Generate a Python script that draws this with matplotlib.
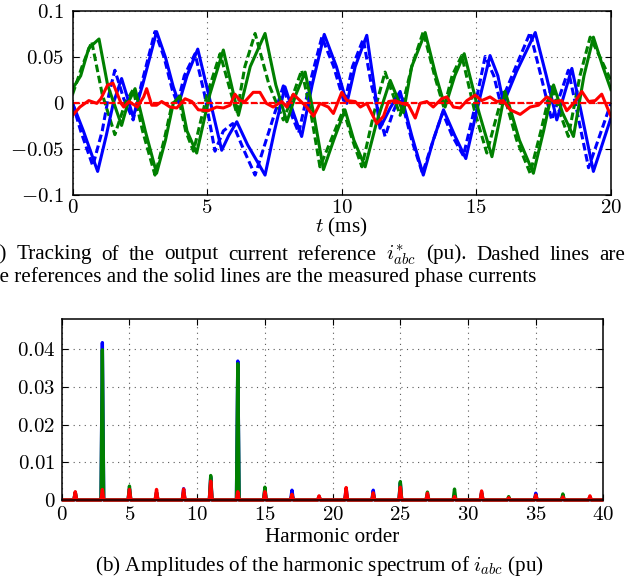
import matplotlib
matplotlib.use('Agg')
import matplotlib.pyplot as plt
from matplotlib.ticker import FuncFormatter

# === DATA ===
# top: phase currents (solid = measured, dashed = reference), time in ms, value in pu
ia_t = [0, 0.4, 0.93, 1.25, 1.51, 1.82, 2.05, 2.25, 2.6, 3.12, 3.45, 3.74, 3.95, 4.25, 4.65, 5.05,
        5.54, 5.8, 6.1, 6.5, 7.15, 7.5, 7.89, 8.2, 8.51, 8.9, 9.35, 9.8, 10.19, 10.5, 10.93, 11.2,
        11.42, 11.8, 12.17, 12.6, 13.03, 13.4, 13.78, 14.2, 14.61, 15.0, 15.51, 15.8, 16.01, 16.5,
        17.19, 17.6, 17.99, 18.55, 18.9, 19.35, 20.0]
ia_v = [0.0, -0.03, -0.074, -0.035, 0.0, 0.027, 0.005, -0.015, 0.02, 0.078, 0.05, 0.018, 0.0, 0.03,
        0.059, 0.01, -0.051, -0.035, -0.02, -0.045, -0.078, -0.03, 0.018, -0.01, -0.036, 0.02, 0.075,
        0.04, 0.0, 0.04, 0.074, 0.02, -0.027, -0.005, 0.013, -0.035, -0.078, -0.04, -0.007, -0.035,
        -0.060, -0.01, 0.052, 0.03, 0.0, 0.035, 0.077, 0.03, -0.018, 0.038, -0.01, -0.074, -0.016]

ia_ref_t = [0, 0.3, 0.75, 1.1, 1.35, 1.57, 1.9, 2.25, 2.55, 3.06, 3.4, 3.7, 3.9, 4.15, 4.55, 4.9,
            5.29, 5.6, 5.95, 6.35, 6.78, 7.3, 7.83, 8.1, 8.4, 8.8, 9.26, 9.7, 10.1, 10.4, 10.8, 11.1,
            11.61, 11.9, 12.17, 12.6, 13.0, 13.4, 13.75, 14.1, 14.52, 14.9, 15.33, 15.65, 15.9, 16.4,
            17.0, 17.4, 17.8, 18.42, 18.75, 19.17, 20.0]
ia_ref_v = [0.0, -0.03, -0.068, -0.03, 0.01, 0.036, 0.005, -0.018, 0.02, 0.078, 0.05, 0.015, 0.0,
            0.03, 0.054, 0.01, -0.052, -0.03, -0.022, -0.05, -0.078, -0.03, 0.019, -0.01, -0.032,
            0.02, 0.072, 0.04, 0.0, 0.04, 0.07, 0.02, -0.036, -0.01, 0.009, -0.04, -0.076, -0.04,
            -0.01, -0.035, -0.057, -0.01, 0.051, 0.03, 0.0, 0.035, 0.077, 0.03, -0.018, 0.036, -0.01,
            -0.070, 0.0]

ib_t = [0, 0.3, 0.6, 0.98, 1.3, 1.82, 2.05, 2.32, 2.7, 3.12, 3.45, 3.74, 3.99, 4.25, 4.61, 5.1, 5.6,
        5.9, 6.16, 6.6, 7.15, 7.55, 7.96, 8.3, 8.64, 8.95, 9.32, 9.7, 10.12, 10.45, 10.87, 11.3, 11.8,
        12.29, 12.6, 13.1, 13.5, 13.84, 14.2, 14.55, 15.1, 15.58, 15.85, 16.07, 16.6, 17.12, 17.5,
        17.87, 18.2, 18.61, 19.0, 19.35, 19.7, 20.0]
ib_v = [0.016, 0.03, 0.06, 0.070, 0.02, -0.024, 0.0, 0.016, -0.03, -0.076, -0.04, 0.0, 0.008, -0.03,
        -0.054, 0.01, 0.058, 0.02, -0.013, 0.04, 0.076, 0.02, -0.020, 0.01, 0.034, -0.01, -0.072,
        -0.04, -0.007, -0.04, -0.069, -0.02, 0.025, -0.010, 0.04, 0.077, 0.03, -0.004, 0.03, 0.054,
        -0.01, -0.058, -0.02, 0.013, -0.04, -0.076, -0.03, 0.020, -0.01, -0.036, 0.03, 0.072, 0.04,
        0.015]

ib_ref_t = [0, 0.35, 0.71, 1.1, 1.57, 1.95, 2.25, 2.6, 3.06, 3.4, 3.7, 3.95, 4.2, 4.49, 5.0, 5.48,
            5.8, 6.1, 6.4, 6.78, 7.3, 7.83, 8.2, 8.51, 8.85, 9.19, 9.6, 10.06, 10.4, 10.75, 11.2,
            11.61, 12.17, 12.6, 13.03, 13.45, 13.8, 14.1, 14.46, 14.95, 15.39, 15.7, 16.0, 16.5,
            17.0, 17.4, 17.8, 18.1, 18.42, 18.85, 19.23, 19.6, 20.0]
ib_ref_v = [0.010, 0.04, 0.067, 0.01, -0.034, 0.0, 0.015, -0.03, -0.078, -0.04, 0.0, 0.004, -0.03,
            -0.052, 0.01, 0.054, 0.02, -0.011, 0.04, 0.076, 0.02, -0.018, 0.01, 0.036, -0.01, -0.069,
            -0.04, -0.007, -0.04, -0.069, -0.01, 0.034, -0.013, 0.04, 0.078, 0.03, -0.005, 0.03,
            0.052, -0.01, -0.054, -0.02, 0.012, -0.04, -0.076, -0.03, 0.020, -0.01, -0.036, 0.03,
            0.072, 0.05, 0.025]

ic_t = [0, 0.27, 0.6, 0.9, 1.05, 1.3, 1.5, 1.8, 1.9, 2.1, 2.4, 2.64, 2.75, 2.94, 3.12, 3.31, 3.62,
        3.87, 4.18, 4.43, 4.67, 5.04, 5.35, 5.6, 5.85, 6.03, 6.22, 6.4, 6.71, 6.96, 7.2, 7.45, 7.77,
        7.96, 8.2, 8.45, 8.7, 8.95, 9.19, 9.5, 9.69, 10.0, 10.19, 10.5, 10.69, 10.93, 11.3, 11.55,
        11.74, 11.98, 12.23, 12.48, 12.73, 12.91, 13.16, 13.4, 13.71, 13.9, 14.15, 14.4, 14.65,
        14.96, 15.2, 15.51, 15.76, 16.0, 16.26, 16.63, 17.0, 17.31, 17.62, 17.87, 18.18, 18.36,
        18.67, 18.92, 19.17, 19.42, 19.66, 20.0]
ic_v = [-0.013, -0.004, 0.003, 0.0, 0.005, 0.020, 0.022, 0.0, -0.004, 0.002, -0.004, 0.007, 0.016,
        -0.002, -0.002, 0.002, -0.004, -0.005, 0.005, 0.002, -0.007, -0.008, -0.004, -0.005, -0.002,
        0.010, 0.003, 0.002, 0.012, 0.012, 0.0, -0.004, 0.002, -0.004, 0.010, 0.003, -0.004, -0.014,
        0.0, -0.004, -0.011, 0.012, 0.003, 0.002, -0.004, 0.0, -0.022, -0.014, 0.002, 0.003, 0.0,
        -0.002, -0.016, 0.0, 0.002, -0.004, 0.005, 0.007, -0.004, -0.005, 0.003, 0.009, 0.003, 0.007,
        0.002, 0.003, -0.007, -0.012, -0.004, -0.002, 0.007, 0.002, 0.003, -0.008, 0.002, 0.013,
        0.002, 0.003, 0.010, -0.014]

ic_ref_t = [0, 20]
ic_ref_v = [0.0, 0.0]

# bottom: harmonic amplitudes (pu) at odd orders
orders = [1, 3, 5, 7, 9, 11, 13, 15, 17, 19, 21, 23, 25, 27, 29, 31, 33, 35, 37, 39]
amp_a = [0.0020, 0.0418, 0.0030, 0.0020, 0.0030, 0.0060, 0.0369, 0.0028, 0.0026, 0.0009,
         0.0030, 0.0026, 0.0045, 0.0015, 0.0012, 0.0020, 0.0005, 0.0018, 0.0010, 0.0008]
amp_b = [0.0020, 0.0399, 0.0037, 0.0020, 0.0020, 0.0065, 0.0362, 0.0034, 0.0014, 0.0009,
         0.0020, 0.0016, 0.0049, 0.0021, 0.0029, 0.0018, 0.0009, 0.0012, 0.0016, 0.0008]
amp_c = [0.0022, 0.0028, 0.0028, 0.0028, 0.0029, 0.0050, 0.0022, 0.0022, 0.0015, 0.0011,
         0.0033, 0.0019, 0.0034, 0.0018, 0.0009, 0.0024, 0.0006, 0.0013, 0.0008, 0.0011]

caption_a1 = r'(a) Tracking of the output current reference $i^{*}_{abc}$ (pu). Dashed lines are'
caption_a2 = 'the references and the solid lines are the measured phase currents'
caption_b = r'(b) Amplitudes of the harmonic spectrum of $i_{abc}$ (pu)'

BLUE = (0, 0, 1)
GREEN = (0, 0.5, 0)
RED = (1, 0, 0)

# === STYLE ===
plt.rcParams['font.family'] = ['Liberation Serif', 'DejaVu Serif']
plt.rcParams['mathtext.fontset'] = 'cm'
FS = 15.2      # captions / labels
FS_TICK = 15

math_fmt = FuncFormatter(lambda v, pos: '$%g$' % v)


def style_axes(ax, xpad, ypad):
    for s in ax.spines.values():
        s.set_linewidth(1.1)
    ax.tick_params(direction='in', top=True, right=True, length=4, width=0.8,
                   labelsize=FS_TICK)
    ax.tick_params(axis='x', pad=xpad)
    ax.tick_params(axis='y', pad=ypad)
    ax.xaxis.set_major_formatter(math_fmt)
    ax.yaxis.set_major_formatter(math_fmt)
    ax.grid(True, color='0.35', linestyle=(0, (1, 4)), linewidth=0.8)
    ax.set_axisbelow(True)


fig = plt.figure(figsize=(6.37, 5.82), dpi=100)
W, H = 637.0, 582.0

# --- top: tracking of current references ---
ax1 = fig.add_axes([0.114, 0.6644, 0.845, 0.316])
lw = 2.2
dash = (2.5, 1.2)
kw = dict(lw=lw, solid_joinstyle='round', dash_joinstyle='round')
ax1.plot(ia_ref_t, ia_ref_v, color=BLUE, dashes=dash, **kw)
ax1.plot(ib_ref_t, ib_ref_v, color=GREEN, dashes=dash, **kw)
ax1.plot(ia_t, ia_v, color=BLUE, **kw)
ax1.plot(ib_t, ib_v, color=GREEN, **kw)
ax1.plot(ic_ref_t, ic_ref_v, color=RED, lw=1.6, dashes=(3, 1))
ax1.plot(ic_t, ic_v, color=RED, **kw)
ax1.set_xlim(0, 20)
ax1.set_ylim(-0.1, 0.1)
ax1.set_xticks([0, 5, 10, 15, 20])
ax1.set_yticks([-0.1, -0.05, 0, 0.05, 0.1])
style_axes(ax1, 2.5, 6)
ax1.set_xlabel('$t$ (ms)', fontsize=FS, labelpad=-1)

# --- bottom: harmonic spectrum ---
ax2 = fig.add_axes([0.0969, 0.1409, 0.8505, 0.3105])
hw = 0.1
for amps, col in [(amp_a, BLUE), (amp_b, GREEN), (amp_c, RED)]:
    xs, ys = [0], [0]
    for h, a in zip(orders, amps):
        xs += [h - hw, h, h + hw]
        ys += [0, a, 0]
    xs.append(40)
    ys.append(0)
    ax2.plot(xs, ys, color=col, lw=2.4, clip_on=False, solid_joinstyle='round',
             solid_capstyle='butt')
ax2.set_xlim(0, 40)
ax2.set_ylim(0, 0.048)
ax2.set_xticks(range(0, 41, 5))
ax2.set_yticks([0, 0.01, 0.02, 0.03, 0.04])
style_axes(ax2, 4.5, 4.5)
ax2.set_xlabel('Harmonic order', fontsize=FS, labelpad=2)

# --- captions ---
# first line of (a) is justified between x0 and x1 (pixels), like the LaTeX caption
renderer = fig.canvas.get_renderer()
x0, x1 = -17.0, 625.0
words = [w for w in caption_a1.replace('$i^{*}_{abc}$', '\0').split(' ')]
words = [w.replace('\0', '$i^{*}_{abc}$') for w in words]
items = []
for w in words:
    t = fig.text(0, 1 - 259.5 / H, w, fontsize=FS, va='baseline', ha='left')
    items.append((t, t.get_window_extent(renderer).width))
total = sum(wd for _, wd in items)
gap = (x1 - x0 - total) / (len(items) - 1)
x = x0
for t, wd in items:
    t.set_x(x / W)
    x += wd + gap

fig.text(x0 / W, 1 - 282.0 / H, caption_a2, fontsize=FS, va='baseline', ha='left')
fig.text(95.0 / W, 1 - 571.0 / H, caption_b, fontsize=FS, va='baseline', ha='left')

fig.savefig('out.png', dpi=100)
